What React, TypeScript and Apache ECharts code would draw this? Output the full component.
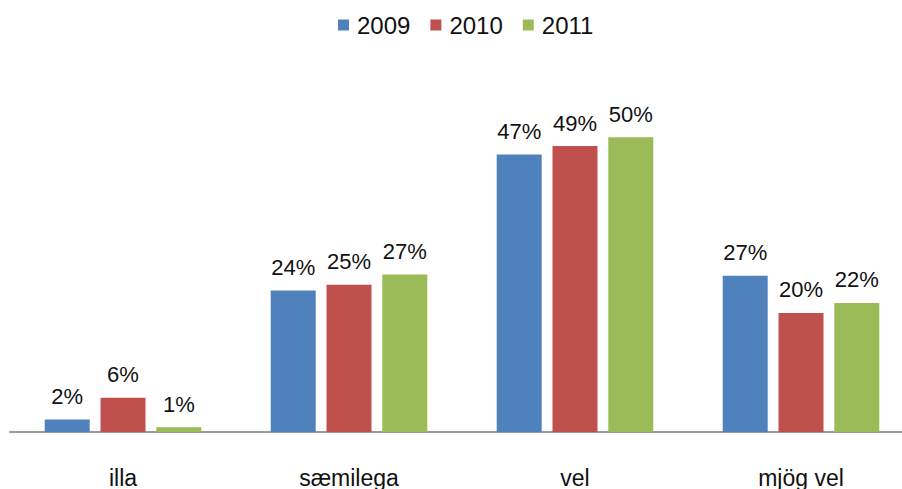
import React, { useEffect, useRef } from "react";
import * as echarts from "echarts";

const categories = ["illa", "sæmilega", "vel", "mjög vel"];
const seriesNames = ["2009", "2010", "2011"];
const values2009 = [2.1, 24, 47.1, 26.5];
const values2010 = [5.8, 25, 48.5, 20.2];
const values2011 = [0.8, 26.7, 50, 21.9];
const colors = ["#4F81BD", "#C0504D", "#9BBB59"];

const FONT = "'Liberation Sans', Arial, sans-serif";

export default function App() {
  const ref = useRef<HTMLDivElement>(null);
  useEffect(() => {
    if (!ref.current) return;
    const chart = echarts.init(ref.current, null, { renderer: "svg" });
    const data = [values2009, values2010, values2011];
    chart.setOption({
      animation: false,
      backgroundColor: "#ffffff",
      textStyle: { fontFamily: FONT },
      legend: {
        left: 333,
        top: 8,
        itemWidth: 11,
        itemHeight: 11,
        itemGap: 20,
        icon: "rect",
        data: seriesNames,
        textStyle: { fontSize: 24, color: "#111", fontFamily: FONT, padding: [0, 0, 0, 3] },
      },
      grid: { left: 10, width: 904, top: 78.34, height: 356.16, containLabel: false },
      xAxis: {
        type: "category",
        data: categories,
        axisLine: { show: true, lineStyle: { color: "#9a9a9a", width: 2 } },
        axisTick: { show: false },
        axisLabel: { fontSize: 23, color: "#111", margin: 34, fontFamily: FONT, interval: 0 },
      },
      yAxis: {
        type: "value",
        min: 0,
        max: 60,
        show: false,
        splitLine: { show: false },
      },
      series: seriesNames.map((name, i) => ({
        name,
        type: "bar",
        data: data[i],
        barWidth: 45,
        barGap: "24%",
        itemStyle: { color: colors[i] },
        label: {
          show: true,
          position: "top",
          distance: 12,
          formatter: (p: any) => Math.round(p.value) + "%",
          fontSize: 22,
          color: "#111",
          fontFamily: FONT,
        },
      })),
    });
    return () => chart.dispose();
  }, []);
  return (
    <div style={{ width: 902, height: 489, position: "absolute", left: 0, top: 0, overflow: "hidden", background: "#fff" }}>
      <div ref={ref} style={{ width: 920, height: 489 }} />
    </div>
  );
}
